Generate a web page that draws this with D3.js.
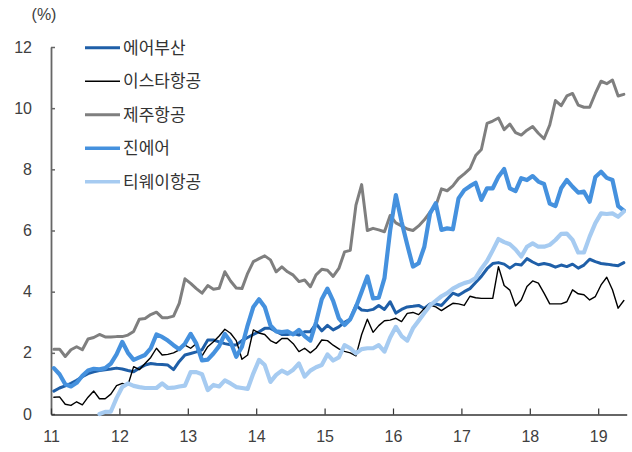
<!DOCTYPE html>
<html>
<head>
<meta charset="utf-8">
<title>LCC share</title>
<script src="https://d3js.org/d3.v7.min.js"></script>
<style>
  body { margin: 0; background: #fff; }
  svg { display: block; }
  .axis text { font-family: "Liberation Sans", Arial, sans-serif; font-size: 16px; fill: #404040; }
  .legend text { font-family: "Noto Sans CJK KR", sans-serif; font-size: 17px; fill: #333; }
</style>
</head>
<body>
<script>
// monthly values, Jan 2011 .. May 2019 (%)
const yearLabels = ["11", "12", "13", "14", "15", "16", "17", "18", "19"];
const yTicks = [0, 2, 4, 6, 8, 10, 12];

const airBusan = [
  0.75, 0.85, 0.92, 1.0, 1.1, 1.22, 1.32, 1.38, 1.42, 1.45, 1.47, 1.5,
  1.47, 1.42, 1.38, 1.5, 1.6, 1.65, 1.63, 1.62, 1.6, 1.45, 1.72, 1.93,
  1.98, 2.03, 2.1, 2.42, 2.42, 2.36, 2.3, 2.26, 2.26, 2.4, 2.5, 2.6,
  2.69, 2.8, 2.8, 2.7, 2.6, 2.6, 2.64, 2.58, 2.69, 2.69, 2.95, 2.72,
  2.9, 2.75, 2.85, 3.0, 3.1, 3.55, 3.4, 3.38, 3.42, 3.55, 3.42, 3.67,
  3.3, 3.42, 3.5, 3.52, 3.55, 3.45, 3.6, 3.6, 3.55, 3.75, 3.95, 3.88,
  4.0, 4.1, 4.3, 4.5, 4.75, 4.92, 4.95, 4.9, 4.77, 4.9, 4.87, 5.08,
  4.97, 4.88, 4.92, 4.88, 4.8, 4.87, 4.82, 4.9, 4.77, 4.87, 5.06, 4.98,
  4.92, 4.9, 4.87, 4.85, 4.95
];
const eastar = [
  0.55, 0.56, 0.32, 0.28, 0.4, 0.3, 0.55, 0.75, 0.5, 0.5, 0.65, 0.93,
  1.0, 0.95, 1.55, 1.45, 1.65, 1.85, 2.15, 1.93, 1.95, 2.0, 2.1, 2.25,
  2.15, 2.3, 1.9, 2.2, 2.36, 2.55, 2.77, 2.64, 2.4, 1.79, 1.93, 2.75,
  2.65, 2.6, 2.4, 2.31, 2.47, 2.47, 2.3, 2.04, 2.15, 2.0, 2.15, 2.42,
  2.4, 2.25, 2.13, 2.05, 2.0, 1.9, 2.6, 3.1, 2.67, 2.89, 3.05, 3.07,
  3.13, 3.02, 3.29, 3.32, 3.25, 3.45, 3.56, 3.5, 3.38, 3.5, 3.62, 3.6,
  3.55, 3.85, 3.8, 3.78, 3.78, 3.78, 4.82, 4.2, 4.05, 3.53, 3.73, 4.17,
  4.35, 4.28, 3.95, 3.6, 3.6, 3.6, 3.67, 4.06, 3.93, 3.9, 3.73, 3.84,
  4.22, 4.47, 4.06, 3.46, 3.71
];
const jeju = [
  2.12, 2.12, 1.88, 2.1, 2.2, 2.1, 2.45, 2.5, 2.6, 2.52, 2.52, 2.53,
  2.53, 2.58, 2.7, 3.1, 3.12, 3.25, 3.33, 3.15, 3.15, 3.2, 3.62, 4.42,
  4.27, 4.1, 3.95, 4.2, 4.08, 4.11, 4.65, 4.35, 4.12, 4.1, 4.6, 4.98,
  5.08, 5.17, 5.04, 4.65, 4.81, 4.65, 4.54, 4.33, 4.38, 4.16, 4.55, 4.73,
  4.7, 4.5, 4.76, 5.3, 5.35, 6.83, 7.5, 6.0, 6.07, 6.02, 5.96, 6.49,
  6.25, 6.15, 6.05, 6.0, 6.15, 6.35, 6.6, 6.8, 7.36, 7.3, 7.46, 7.7,
  7.85, 8.02, 8.45, 8.65, 9.5, 9.58, 9.68, 9.3, 9.48, 9.2, 9.12, 9.28,
  9.4, 9.18, 9.0, 9.45, 10.25, 10.08, 10.4, 10.48, 10.1, 10.03, 10.03, 10.48,
  10.88, 10.8, 10.92, 10.4, 10.45
];
const jinAir = [
  1.5, 1.3, 0.97, 0.9, 1.02, 1.25, 1.42, 1.48, 1.46, 1.5, 1.65, 1.95,
  2.36, 2.0, 1.77, 1.85, 1.93, 2.15, 2.6, 2.52, 2.4, 2.25, 2.12, 2.3,
  2.62, 2.3, 1.75, 1.78, 1.98, 2.22, 2.62, 2.36, 1.87, 2.2, 2.9, 3.5,
  3.75, 3.5, 2.9, 2.7, 2.68, 2.7, 2.6, 2.75, 2.55, 2.4, 3.0, 3.75,
  4.1, 3.7, 3.13, 2.91, 3.1, 3.5, 4.0, 4.5, 3.78, 3.8, 4.44, 6.0,
  7.16, 6.29, 5.53, 4.82, 4.93, 5.47, 6.56, 6.89, 6.02, 6.07, 6.04, 7.05,
  7.32, 7.45, 7.56, 7.0, 7.38, 7.38, 7.76, 8.01, 7.38, 7.29, 7.71, 7.65,
  7.78, 7.6, 7.52, 6.88, 6.8, 7.38, 7.65, 7.43, 7.24, 7.27, 6.94, 7.75,
  7.92, 7.72, 7.65, 6.8, 6.65
];
const tway = [
  null, null, null, null, null, null, null, null, 0.0, 0.07, 0.08, 0.52,
  0.88, 1.0, 0.92, 0.88, 0.85, 0.85, 0.85, 1.0, 0.85, 0.86, 0.9, 0.93,
  1.37, 1.37, 1.3, 0.78, 0.95, 0.9, 1.1, 1.0, 0.88, 0.85, 0.82, 1.33,
  1.77, 1.6, 1.05, 1.28, 1.42, 1.32, 1.45, 1.65, 1.22, 1.42, 1.53, 1.6,
  1.95, 1.75, 1.85, 2.25, 2.15, 1.98, 2.12, 2.15, 2.15, 2.25, 2.04, 2.5,
  2.85, 2.55, 2.4, 2.8, 3.05, 3.3, 3.55, 3.7, 3.85, 3.95, 4.1, 4.2,
  4.28, 4.33, 4.45, 4.75, 5.0, 5.35, 5.72, 5.62, 5.55, 5.38, 5.15, 5.47,
  5.58, 5.47, 5.47, 5.53, 5.69, 5.89, 5.9, 5.69, 5.28, 5.28, 5.8, 6.24,
  6.56, 6.54, 6.56, 6.45, 6.62
];

const seriesNames = ["에어부산", "이스타항공", "제주항공", "진에어", "티웨이항공"];
const seriesData = [airBusan, eastar, jeju, jinAir, tway];
const colors = ["#1f5fa8", "#000000", "#7f7f7f", "#4591de", "#a6cbf1"];
const widths = [3, 1.4, 3, 4.2, 4.2];

const width = 632, height = 452;

const svg = d3.select("body").append("svg")
  .attr("width", width)
  .attr("height", height);

const x = d3.scaleLinear().domain([0, 101]).range([51, 626.7]);
const y = d3.scaleLinear().domain([0, 12]).range([414, 47]);

// y axis
const yAxis = svg.append("g")
  .attr("class", "axis")
  .attr("transform", "translate(51,0)")
  .call(d3.axisLeft(y).tickValues(yTicks).tickSizeInner(-4).tickSizeOuter(0).tickPadding(19));
yAxis.select(".domain").attr("stroke", "#666").attr("stroke-width", 1.8);
yAxis.selectAll(".tick line").attr("stroke", "#666").attr("stroke-width", 1.5);

// x axis
const xAxis = svg.append("g")
  .attr("class", "axis")
  .attr("transform", "translate(0,414.5)")
  .call(d3.axisBottom(x)
    .tickValues(d3.range(0, 97, 12))
    .tickSizeInner(-6).tickSizeOuter(0).tickPadding(16)
    .tickFormat(d => yearLabels[d / 12]));
xAxis.select(".domain").attr("stroke", "#333").attr("stroke-width", 1.4);
xAxis.selectAll(".tick line").attr("stroke", "#333").attr("stroke-width", 1.2);

svg.append("text")
  .attr("class", "axis")
  .attr("x", 44)
  .attr("y", 20)
  .attr("text-anchor", "middle")
  .style("font-family", "'Liberation Sans', Arial, sans-serif")
  .style("font-size", "16px")
  .style("fill", "#404040")
  .text("(%)");

const line = d3.line()
  .defined(d => d != null)
  .x((d, i) => x(i + 0.5))
  .y(d => y(d));

svg.selectAll(".series")
  .data(seriesData)
  .enter().append("path")
    .attr("class", "series")
    .attr("d", line)
    .attr("fill", "none")
    .attr("stroke", (d, i) => colors[i])
    .attr("stroke-width", (d, i) => widths[i])
    .attr("stroke-linejoin", "round")
    .attr("stroke-linecap", "round");

// legend
const legend = svg.append("g").attr("class", "legend");
const rows = legend.selectAll("g")
  .data(seriesNames)
  .enter().append("g")
    .attr("transform", (d, i) => "translate(85," + (47.7 + i * 33.5) + ")");

rows.append("line")
  .attr("x1", 0).attr("x2", 35)
  .attr("stroke", (d, i) => colors[i])
  .attr("stroke-width", (d, i) => Math.min(widths[i], 3.5));

rows.append("text")
  .attr("x", 38)
  .attr("dy", "0.35em")
  .text(d => d);
</script>
</body>
</html>
